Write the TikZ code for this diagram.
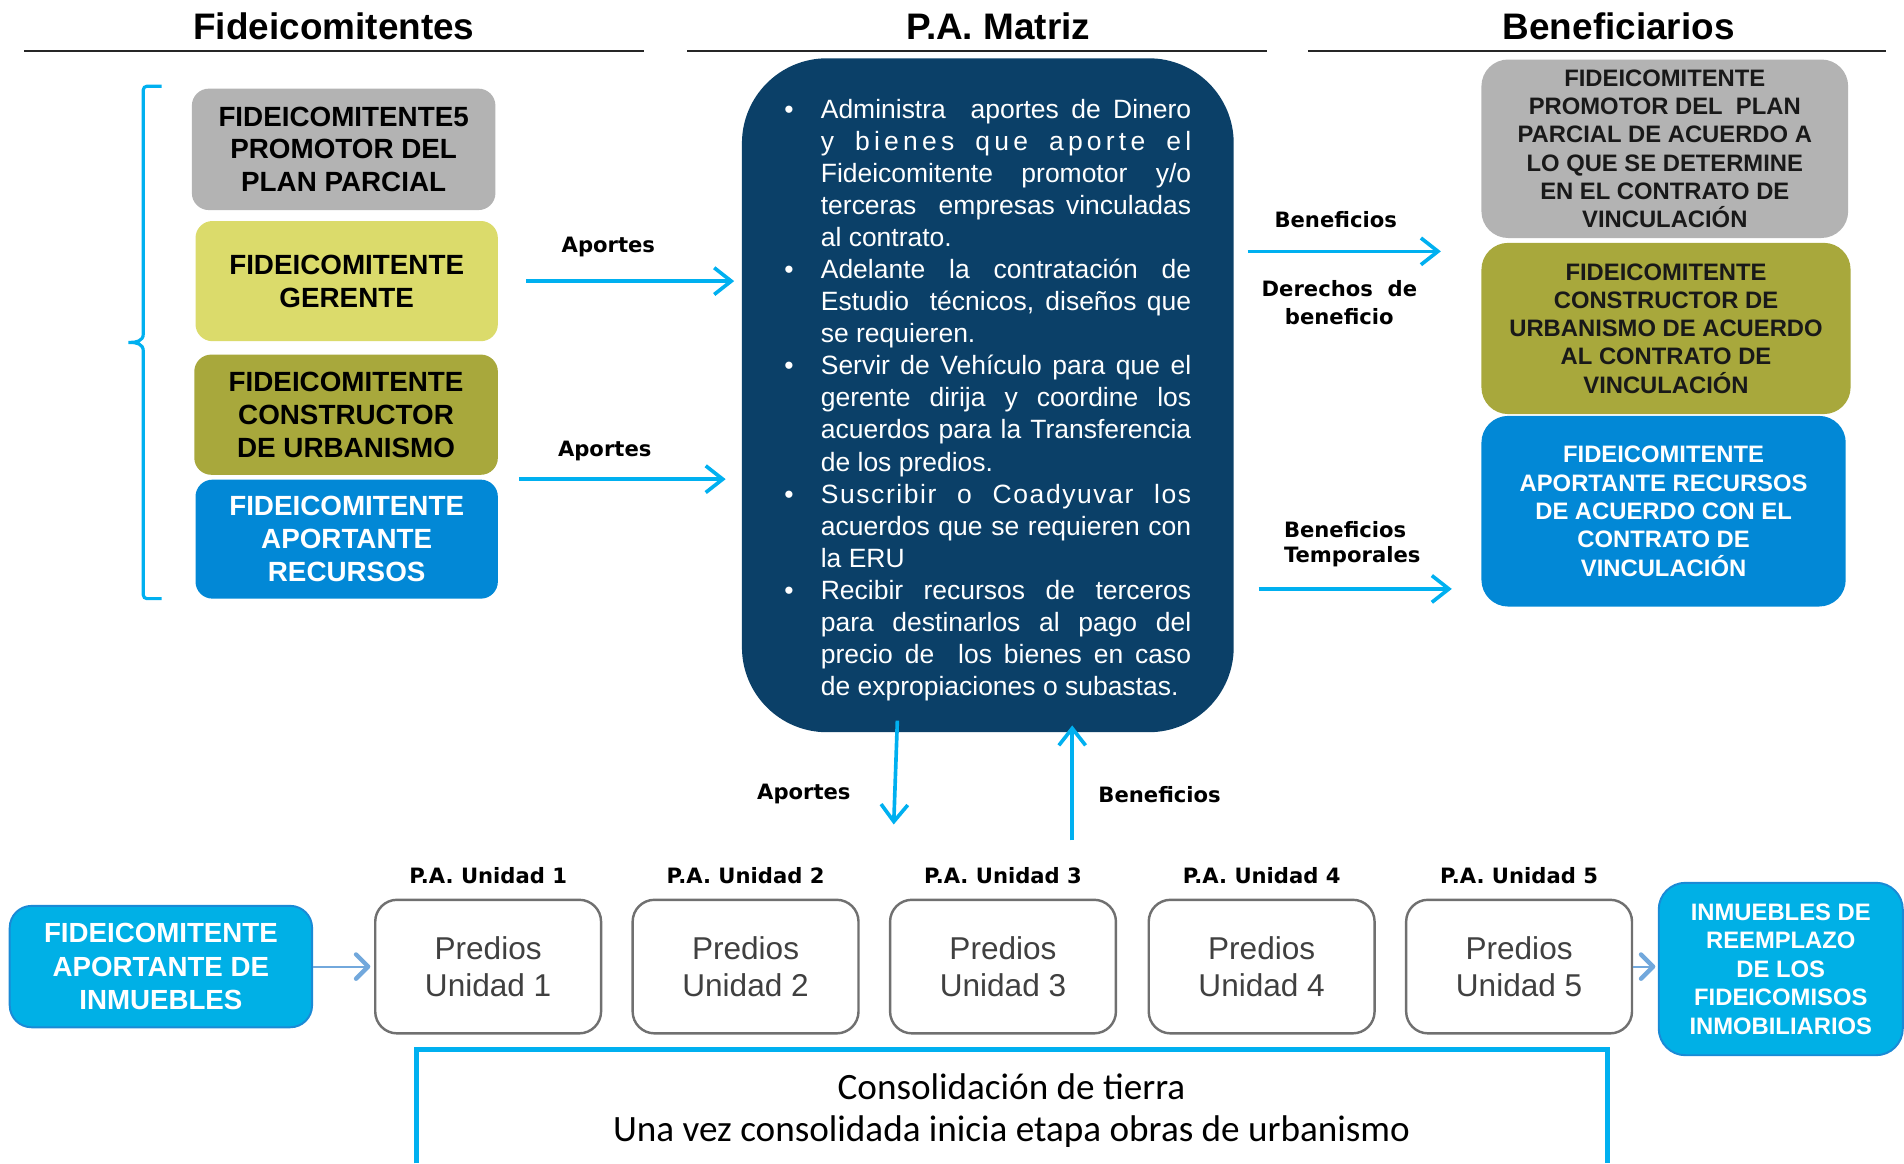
\documentclass[tikz,border=0pt]{standalone}
\usepackage{fontspec}
\setmainfont{Liberation Sans}
\newfontfamily\lblfont{DejaVu Sans}
\newfontfamily\calfont{Carlito}
\usetikzlibrary{arrows.meta,calc}
\definecolor{cyanA}{HTML}{00B0F0}
\definecolor{grayBox}{HTML}{B3B3B3}
\definecolor{yellowBox}{HTML}{DBDB6B}
\definecolor{oliveBox}{HTML}{A8A83C}
\definecolor{blueBox}{HTML}{0288D6}
\definecolor{navyBox}{HTML}{0B4068}
\definecolor{cyanBox}{HTML}{00B0E6}
\definecolor{cyanEdge}{HTML}{1A8AD6}
\definecolor{predEdge}{HTML}{707070}
\definecolor{predText}{HTML}{404040}
\definecolor{lightArr}{HTML}{72A8DC}
\newlength\bind
\setlength\bind{15pt}
\newcommand\bitem[1]{\noindent\hangindent=\bind\hangafter=1\makebox[\bind][l]{\textbullet}#1\par}
\begin{document}
\begin{tikzpicture}[x=0.5pt,y=-0.5pt,
 hdr/.style={font=\fontsize{15.2pt}{18pt}\selectfont\bfseries, inner sep=0pt},
 hline/.style={line width=0.75pt, draw=black!85},
 lbox/.style={inner sep=0pt, rounded corners=7pt, align=center, font=\fontsize{11.45pt}{13.5pt}\selectfont\bfseries},
 rbox/.style={inner sep=0pt, rounded corners=11pt, align=center, font=\fontsize{9.8pt}{11.65pt}\selectfont\bfseries},
 lbl/.style={inner sep=0pt, align=center, font=\lblfont\bfseries\fontsize{8.7pt}{11.5pt}\selectfont},
 arr/.style={draw=cyanA, line width=1.5pt, -{Straight Barb[length=7pt,width=11pt]}},
 smallarr/.style={draw=lightArr, line width=0.8pt, -{Straight Barb[length=5pt,width=10pt,line width=1.8pt,round]}},
 predbox/.style={inner sep=0pt, rounded corners=9pt, draw=predEdge, line width=1pt, fill=white, align=center, text=predText, font=\fontsize{13pt}{15pt}\selectfont, minimum width=93pt, minimum height=55pt},
 cbox/.style={inner sep=0pt, rounded corners=9pt, fill=cyanBox, draw=cyanEdge, line width=0.8pt, align=center, text=white}
]
\useasboundingbox (0,0) rectangle (1568,958);

% headers
\node[hdr] (h1) at (275,22) {Fideicomitentes};
\node[hdr] (h2) at (822,22) {P.A. Matriz};
\node[hdr] (h3) at (1333,22) {Beneficiarios};
\draw[hline] (20,42) -- (530,42);
\draw[hline] (566,42) -- (1043,42);
\draw[hline] (1077,42) -- (1553,42);

% brace
\draw[cyanA, line width=1.3pt, rounded corners=1.5pt] (133,71) -- (118,71) -- (118,272)
  .. controls (118,281) and (112,282) .. (104,282)
  .. controls (112,282) and (118,283) .. (118,292) -- (118,493) -- (133,493);

% left boxes
\node[lbox, fill=grayBox, minimum width=125pt, minimum height=50pt] (g1) at (283,123) {FIDEICOMITENTE5\\PROMOTOR DEL\\PLAN PARCIAL};
\node[lbox, fill=yellowBox, minimum width=124.5pt, minimum height=49.5pt] (y1) at (285.5,231.5) {FIDEICOMITENTE\\GERENTE};
\node[lbox, fill=oliveBox, minimum width=125pt, minimum height=49.5pt] (o1) at (285,341.5) {FIDEICOMITENTE\\CONSTRUCTOR\\DE URBANISMO};
\node[lbox, fill=blueBox, text=white, minimum width=124.5pt, minimum height=49pt] (b1) at (285.5,444) {FIDEICOMITENTE\\APORTANTE\\RECURSOS};

% main box
\node[inner sep=0pt, rounded corners=35pt, fill=navyBox, minimum width=202.5pt, minimum height=277.5pt] (main) at (813.5,325.5) {};
\node[text width=167.5pt, inner sep=0pt, text=white, align=justify,
      font=\fontsize{10.9pt}{13.19pt}\selectfont] (mtext) at ($(main.center)+(0,4)$) {\parskip=0pt
\bitem{Administra\ \ aportes de Dinero\linebreak {\addfontfeature{LetterSpace=16}y bienes que aporte el}\linebreak Fideicomitente promotor y/o\linebreak terceras\ \ empresas vinculadas\linebreak al contrato.}
\bitem{Adelante la contratación de\linebreak Estudio\ \ técnicos, diseños que\linebreak se requieren.}
\bitem{Servir de Vehículo para que el\linebreak gerente dirija y coordine los\linebreak acuerdos para la Transferencia\linebreak de los predios.}
\bitem{{\addfontfeature{LetterSpace=6}Suscribir o Coadyuvar los}\linebreak acuerdos que se requieren con\linebreak la ERU}
\bitem{Recibir recursos de terceros\linebreak para destinarlos al pago del\linebreak precio de\ \ los bienes en caso\linebreak de expropiaciones o subastas.}};

% right boxes
\node[rbox, fill=grayBox, text=black!90, minimum width=151pt, minimum height=73.5pt] (g2) at (1371,122.5) {FIDEICOMITENTE\\PROMOTOR DEL\ \ PLAN\\PARCIAL DE ACUERDO A\\LO QUE SE DETERMINE\\EN EL CONTRATO DE\\VINCULACIÓN};
\node[rbox, fill=oliveBox, text=black!90, minimum width=152pt, minimum height=70.5pt] (o2) at (1372,270.5) {FIDEICOMITENTE\\CONSTRUCTOR DE\\URBANISMO DE ACUERDO\\AL CONTRATO DE\\VINCULACIÓN};
\node[rbox, fill=blueBox, text=white, minimum width=150pt, minimum height=78.5pt] (b2) at (1370,421) {FIDEICOMITENTE\\APORTANTE RECURSOS\\DE ACUERDO CON EL\\CONTRATO DE\\VINCULACIÓN};

% labels
\node[lbl] (la1) at (501,203) {Aportes};
\node[lbl] (la2) at (498,371) {Aportes};
\node[lbl] (lb1) at (1100,181) {Beneficios};
\node[lbl] (ld) at (1103,249) {Derechos\ \ de\\beneficio};
\node[lbl, align=left, anchor=west, font=\lblfont\bfseries\fontsize{8.7pt}{10.5pt}\selectfont] (lt) at (1057,448) {Beneficios\\Temporales};
\node[lbl] (la3) at (662,654) {Aportes};
\node[lbl] (lb3) at (955,654) {Beneficios};

% arrows
\draw[arr, shorten <=11.5pt, shorten >=3pt] (y1.east) -- (main.west |- y1.east);
\draw[arr, shorten <=8.5pt, shorten >=6.5pt] (b1.north east) -- (main.west |- b1.north east);
\draw[arr, shorten <=5.5pt, shorten >=16.5pt] (main.east |- 0,207) -- (o2.west |- 0,207);
\draw[arr, shorten <=10pt, shorten >=12pt] (main.east |- 0,485) -- (b2.west |- 0,485);
\coordinate (dtip) at (736,679);
\draw[arr] ($(main.south)+(-74.5,-10)$) -- (dtip);
\coordinate (ubase) at (883,692);
\draw[arr] (ubase) -- ($(main.south)+(69.5,-6)$);

% bottom row
\node[cbox, minimum width=124.5pt, minimum height=50pt, font=\fontsize{11.4pt}{13.75pt}\selectfont\bfseries] (fa) at (132.5,796) {FIDEICOMITENTE\\APORTANTE DE\\INMUEBLES};
\foreach \i/\xc in {1/402,2/614,3/826,4/1039,5/1251}{
  \node[predbox] (p\i) at (\xc,796) {Predios\\Unidad \i};
  \node[lbl] (u\i) at ($(p\i.north)+(0,-19)$) {P.A. Unidad \i};
}
\node[cbox, rounded corners=11pt, minimum width=100.5pt, minimum height=71pt, font=\fontsize{9.8pt}{11.75pt}\selectfont\bfseries] (im) at (1466.5,798) {INMUEBLES DE\\REEMPLAZO\\DE LOS\\FIDEICOMISOS\\INMOBILIARIOS};
\draw[smallarr, shorten >=1.5pt] (fa.east) -- (p1.west);
\draw[smallarr, shorten >=1pt] (p5.east) -- (im.west |- p5.east);

% consolidation
\draw[cyanA, line width=2pt] (343,958) -- (343,864) -- (1324,864) -- (1324,958);
\node[font=\calfont\fontsize{15.3pt}{17.5pt}\selectfont, align=center, inner sep=0pt] (cons) at (833,914.5) {Consolidación de tierra\\Una vez consolidada inicia etapa obras de urbanismo};
\end{tikzpicture}
\end{document}
